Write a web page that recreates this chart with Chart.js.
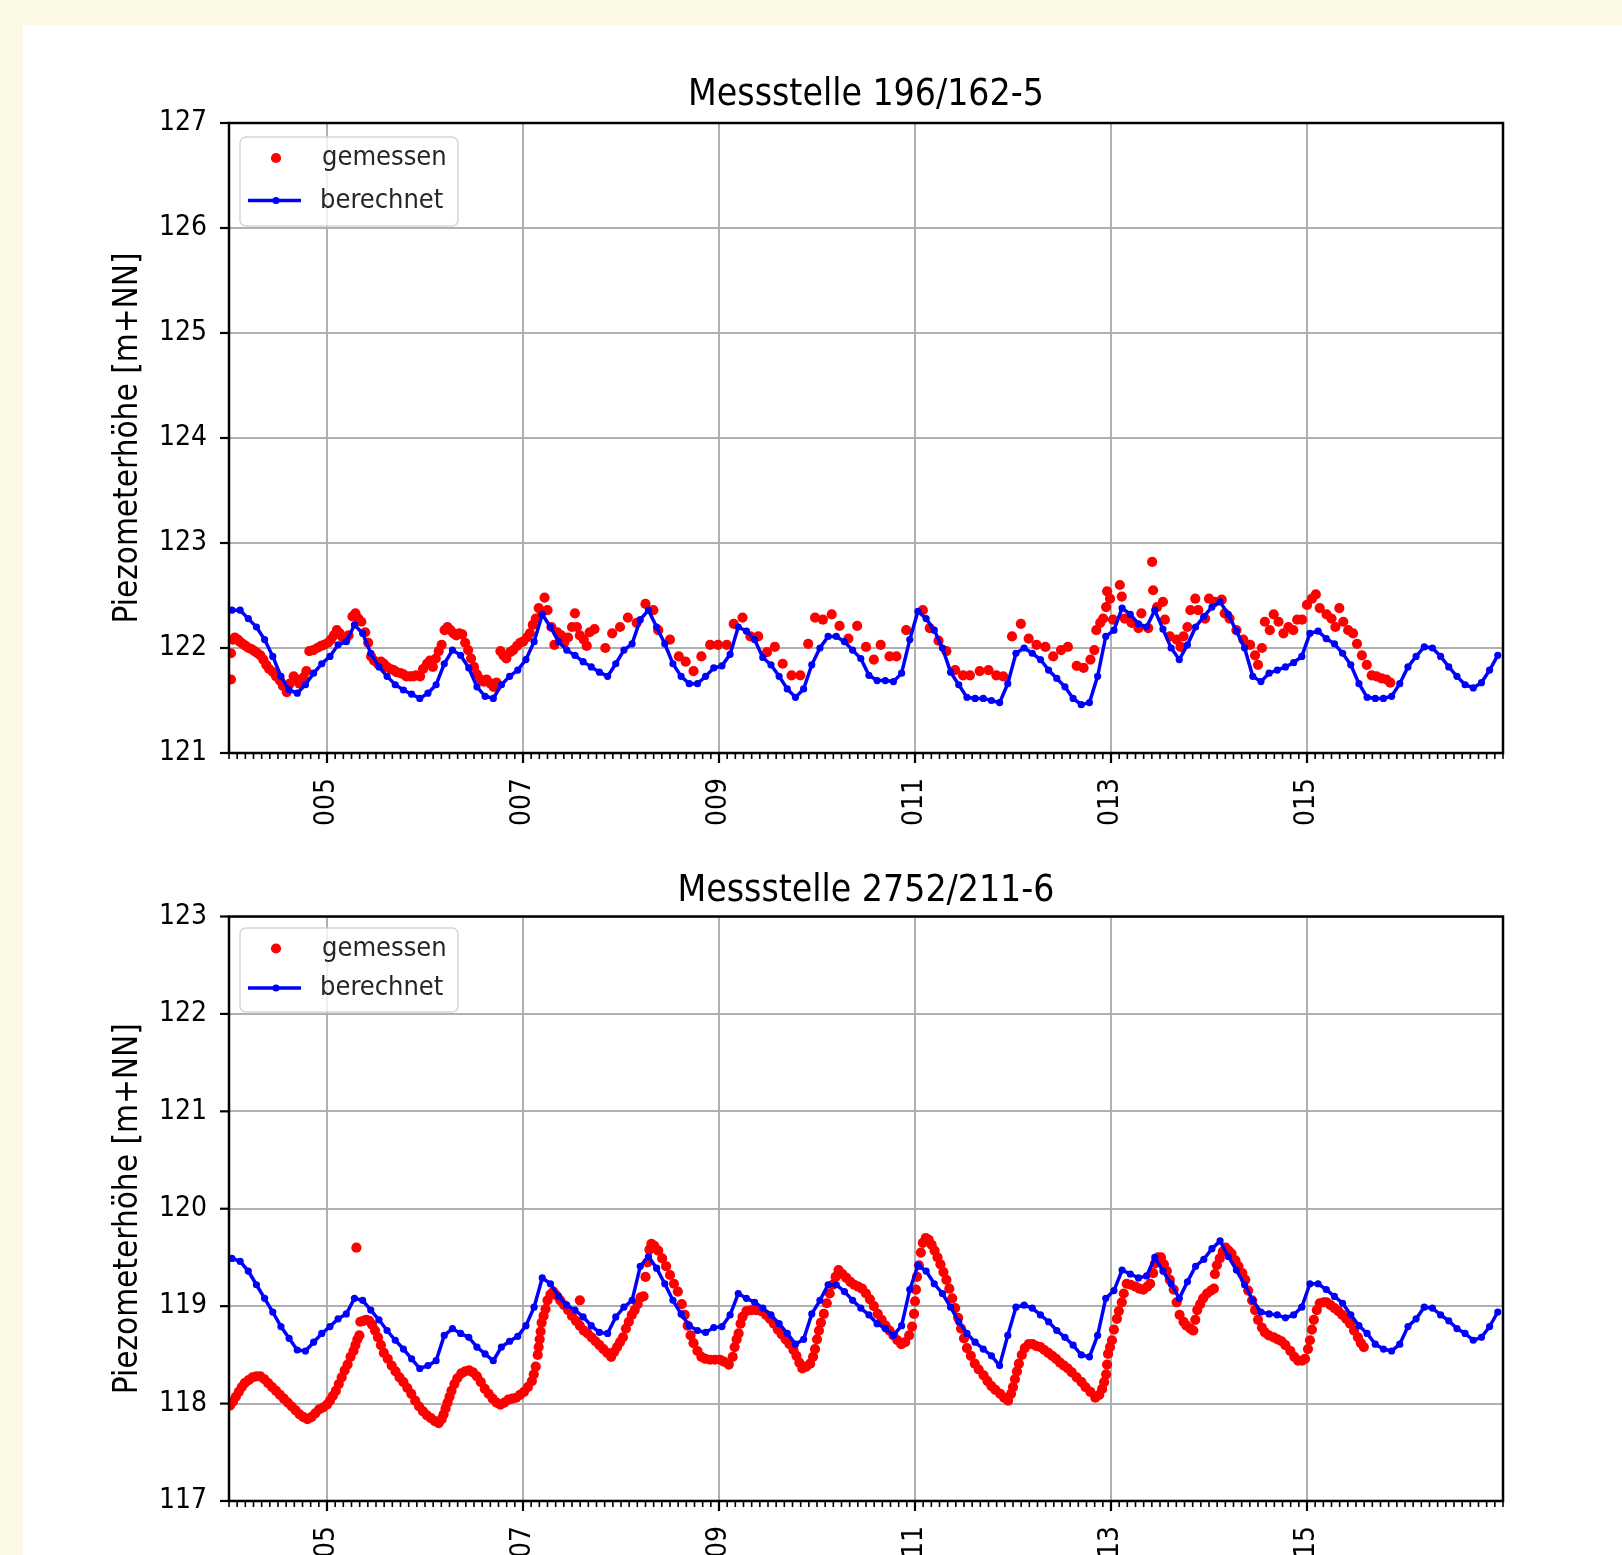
<!DOCTYPE html>
<html>
<head>
<meta charset="utf-8">
<script src="https://cdn.jsdelivr.net/npm/chart.js@4.4.0/dist/chart.umd.min.js"></script>
<style>
  html, body { margin: 0; padding: 0; width: 1622px; height: 1555px; overflow: hidden; background: #fbf9e5; }
  #panel { position: absolute; left: 23px; top: 25px; right: 0; bottom: 0; background: #fff; }
  canvas { position: absolute; }
  #c1 { left: 110px; top: 25px; }
  #c2 { left: 110px; top: 855px; }
</style>
</head>
<body>
<div id="panel"></div>
<canvas id="c1" width="1512" height="830"></canvas>
<canvas id="c2" width="1512" height="800"></canvas>
<script>
const FONT = "'DejaVu Sans Condensed', 'Liberation Sans', sans-serif";

// Achse: Jahre, Beschriftung nur jedes zweite Jahr
const yearTicks = [2005, 2007, 2009, 2011, 2013, 2015];
const yearLabels = ['005', '007', '009', '011', '013', '015'];

// berechnete Werte: monatlich ab Mitte Januar 2004
const blueStart = 2004.03;

// Messstelle 196/162-5
const berechnetTop = [
  122.36, 122.36, 122.28, 122.20, 122.08, 121.92, 121.73, 121.60, 121.57, 121.65, 121.76, 121.85,
  121.92, 122.03, 122.06, 122.22, 122.14, 121.95, 121.82, 121.73, 121.65, 121.60, 121.56, 121.52,
  121.57, 121.65, 121.85, 121.98, 121.93, 121.81, 121.63, 121.54, 121.52, 121.65, 121.73, 121.79,
  121.89, 122.06, 122.32, 122.20, 122.06, 121.98, 121.93, 121.87, 121.82, 121.77, 121.73, 121.85,
  121.98, 122.04, 122.27, 122.36, 122.20, 122.04, 121.85, 121.73, 121.66, 121.66, 121.73, 121.81,
  121.83, 121.94, 122.20, 122.16, 122.08, 121.91, 121.84, 121.73, 121.61, 121.53, 121.61, 121.84,
  122.00, 122.11, 122.11, 122.06, 121.98, 121.90, 121.74, 121.69, 121.69, 121.68, 121.76, 122.08,
  122.35, 122.28, 122.17, 122.00, 121.77, 121.65, 121.53, 121.52, 121.52, 121.50, 121.48, 121.66,
  121.95, 122.00, 121.95, 121.89, 121.79, 121.71, 121.63, 121.52, 121.46, 121.48, 121.73, 122.11,
  122.17, 122.38, 122.32, 122.23, 122.20, 122.36, 122.18, 122.00, 121.89, 122.03, 122.20, 122.30,
  122.39, 122.44, 122.32, 122.16, 122.00, 121.73, 121.68, 121.76, 121.79, 121.82, 121.86, 121.92,
  122.14, 122.16, 122.09, 122.04, 121.95, 121.84, 121.66, 121.53, 121.52, 121.52, 121.54, 121.66,
  121.82, 121.92, 122.01, 122.00, 121.92, 121.82, 121.73, 121.65, 121.62, 121.67, 121.79, 121.93
];

const gemessenTop = [
  [2004.02, 121.70], [2004.02, 121.95], [2004.04, 122.08], [2004.06, 122.10], [2004.09, 122.08],
  [2004.11, 122.06], [2004.14, 122.04], [2004.17, 122.02], [2004.20, 122.00], [2004.23, 121.99],
  [2004.26, 121.97], [2004.29, 121.95], [2004.32, 121.93], [2004.35, 121.89], [2004.38, 121.84],
  [2004.41, 121.80], [2004.45, 121.77], [2004.48, 121.73], [2004.52, 121.69], [2004.55, 121.64],
  [2004.59, 121.58], [2004.62, 121.66], [2004.66, 121.73], [2004.69, 121.70], [2004.72, 121.66],
  [2004.76, 121.72], [2004.79, 121.78], [2004.82, 121.97], [2004.86, 121.98], [2004.90, 122.00],
  [2004.94, 122.02], [2004.97, 122.03], [2005.01, 122.05], [2005.04, 122.08], [2005.07, 122.12],
  [2005.10, 122.17], [2005.13, 122.14], [2005.16, 122.10], [2005.19, 122.08], [2005.22, 122.12],
  [2005.26, 122.30], [2005.29, 122.33], [2005.32, 122.28], [2005.35, 122.25], [2005.39, 122.15],
  [2005.42, 122.05], [2005.45, 121.92], [2005.48, 121.88], [2005.52, 121.85], [2005.55, 121.87],
  [2005.58, 121.85], [2005.61, 121.82], [2005.65, 121.80], [2005.68, 121.79], [2005.71, 121.77],
  [2005.75, 121.76], [2005.78, 121.75], [2005.81, 121.73], [2005.85, 121.73], [2005.88, 121.73],
  [2005.91, 121.74], [2005.95, 121.73], [2005.98, 121.80], [2006.02, 121.85], [2006.05, 121.88],
  [2006.08, 121.82], [2006.11, 121.90], [2006.14, 121.97], [2006.17, 122.03], [2006.20, 122.17],
  [2006.23, 122.20], [2006.26, 122.17], [2006.29, 122.14], [2006.32, 122.12], [2006.35, 122.14],
  [2006.38, 122.13], [2006.41, 122.05], [2006.44, 121.98], [2006.47, 121.90], [2006.50, 121.82],
  [2006.53, 121.75], [2006.57, 121.70], [2006.60, 121.68], [2006.63, 121.70], [2006.67, 121.66],
  [2006.70, 121.63], [2006.73, 121.67], [2006.77, 121.97], [2006.80, 121.93], [2006.83, 121.90],
  [2006.87, 121.96], [2006.90, 121.98], [2006.94, 122.02], [2006.97, 122.05], [2007.00, 122.06],
  [2007.04, 122.10], [2007.07, 122.14], [2007.10, 122.22], [2007.13, 122.28], [2007.16, 122.38],
  [2007.19, 122.35], [2007.22, 122.48], [2007.25, 122.36], [2007.29, 122.20], [2007.32, 122.03],
  [2007.35, 122.15], [2007.39, 122.12], [2007.42, 122.05], [2007.46, 122.10], [2007.50, 122.20],
  [2007.53, 122.33], [2007.55, 122.20], [2007.58, 122.12], [2007.62, 122.08], [2007.65, 122.02],
  [2007.68, 122.15], [2007.73, 122.18], [2007.84, 122.00], [2007.91, 122.14], [2007.99, 122.20],
  [2008.07, 122.29], [2008.16, 122.24], [2008.25, 122.42], [2008.33, 122.36], [2008.38, 122.17],
  [2008.50, 122.08], [2008.59, 121.92], [2008.66, 121.87], [2008.74, 121.78], [2008.82, 121.92],
  [2008.91, 122.03], [2008.99, 122.03], [2009.08, 122.03], [2009.15, 122.23], [2009.24, 122.29],
  [2009.32, 122.11], [2009.40, 122.11], [2009.49, 121.96], [2009.57, 122.01], [2009.65, 121.85],
  [2009.74, 121.74], [2009.83, 121.74], [2009.91, 122.04], [2009.98, 122.29], [2010.06, 122.27],
  [2010.15, 122.32], [2010.23, 122.21], [2010.32, 122.09], [2010.41, 122.21], [2010.50, 122.01],
  [2010.58, 121.89], [2010.65, 122.03], [2010.74, 121.92], [2010.81, 121.92], [2010.91, 122.17],
  [2011.08, 122.36], [2011.15, 122.19], [2011.24, 122.07], [2011.32, 121.97], [2011.41, 121.79],
  [2011.49, 121.74], [2011.56, 121.74], [2011.66, 121.78], [2011.75, 121.79], [2011.83, 121.74],
  [2011.90, 121.73], [2011.99, 122.11], [2012.08, 122.23], [2012.16, 122.09], [2012.24, 122.03],
  [2012.33, 122.01], [2012.41, 121.92], [2012.49, 121.98], [2012.56, 122.01], [2012.65, 121.83],
  [2012.72, 121.81], [2012.79, 121.89], [2012.83, 121.98], [2012.85, 122.17], [2012.89, 122.24],
  [2012.92, 122.28], [2012.95, 122.39], [2012.96, 122.54], [2012.99, 122.47], [2013.02, 122.27],
  [2013.09, 122.60], [2013.11, 122.49], [2013.14, 122.28], [2013.21, 122.24], [2013.28, 122.19],
  [2013.31, 122.33], [2013.38, 122.19], [2013.42, 122.82], [2013.43, 122.55], [2013.47, 122.39],
  [2013.53, 122.44], [2013.55, 122.27], [2013.60, 122.11], [2013.67, 122.08], [2013.71, 122.01],
  [2013.74, 122.11], [2013.78, 122.20], [2013.81, 122.36], [2013.86, 122.47], [2013.89, 122.36],
  [2013.96, 122.28], [2014.00, 122.47], [2014.06, 122.44], [2014.13, 122.46], [2014.16, 122.33],
  [2014.21, 122.28], [2014.28, 122.17], [2014.35, 122.08], [2014.42, 122.03], [2014.47, 121.93],
  [2014.50, 121.84], [2014.54, 122.00], [2014.57, 122.25], [2014.62, 122.17], [2014.66, 122.32],
  [2014.71, 122.25], [2014.76, 122.14], [2014.81, 122.20], [2014.86, 122.17], [2014.90, 122.27],
  [2014.95, 122.27], [2015.00, 122.41], [2015.05, 122.47], [2015.09, 122.51], [2015.13, 122.38],
  [2015.20, 122.32], [2015.25, 122.28], [2015.29, 122.20], [2015.33, 122.38], [2015.37, 122.25],
  [2015.42, 122.17], [2015.47, 122.14], [2015.51, 122.04], [2015.56, 121.93], [2015.61, 121.84],
  [2015.66, 121.74], [2015.71, 121.73], [2015.76, 121.71], [2015.81, 121.70], [2015.85, 121.67]
];

// Messstelle 2752/211-6
const berechnetBottom = [
  119.49, 119.46, 119.36, 119.22, 119.08, 118.94, 118.79, 118.67, 118.55, 118.54, 118.63, 118.72,
  118.79, 118.87, 118.92, 119.08, 119.06, 118.96, 118.86, 118.75, 118.65, 118.56, 118.46, 118.36,
  118.39, 118.44, 118.70, 118.77, 118.72, 118.68, 118.58, 118.51, 118.44, 118.58, 118.64, 118.69,
  118.80, 118.99, 119.29, 119.23, 119.10, 119.01, 118.96, 118.89, 118.80, 118.73, 118.72, 118.89,
  118.99, 119.06, 119.41, 119.51, 119.39, 119.23, 119.06, 118.92, 118.80, 118.75, 118.73, 118.78,
  118.79, 118.91, 119.13, 119.08, 119.04, 118.98, 118.91, 118.82, 118.72, 118.61, 118.66, 118.92,
  119.06, 119.22, 119.22, 119.15, 119.06, 118.98, 118.91, 118.82, 118.77, 118.70, 118.80, 119.17,
  119.42, 119.36, 119.23, 119.13, 118.99, 118.84, 118.72, 118.63, 118.56, 118.49, 118.39, 118.70,
  118.99, 119.01, 118.98, 118.91, 118.84, 118.75, 118.68, 118.60, 118.50, 118.48, 118.70, 119.08,
  119.16, 119.37, 119.33, 119.29, 119.31, 119.50, 119.36, 119.23, 119.08, 119.25, 119.41, 119.48,
  119.59, 119.67, 119.51, 119.37, 119.22, 119.06, 118.94, 118.92, 118.91, 118.88, 118.91, 118.99,
  119.23, 119.23, 119.17, 119.10, 119.03, 118.91, 118.80, 118.72, 118.61, 118.56, 118.54, 118.61,
  118.79, 118.87, 118.99, 118.98, 118.91, 118.85, 118.77, 118.72, 118.65, 118.68, 118.79, 118.94
];

const gemessenBottom = [
  [2004.01, 117.98], [2004.04, 118.02], [2004.07, 118.07], [2004.10, 118.12], [2004.13, 118.17],
  [2004.16, 118.21], [2004.20, 118.24], [2004.24, 118.27], [2004.28, 118.28], [2004.32, 118.28],
  [2004.36, 118.25], [2004.40, 118.21], [2004.44, 118.17], [2004.48, 118.13], [2004.52, 118.09],
  [2004.56, 118.05], [2004.60, 118.01], [2004.64, 117.97], [2004.68, 117.93], [2004.72, 117.89],
  [2004.76, 117.86], [2004.80, 117.84], [2004.84, 117.86], [2004.88, 117.90], [2004.92, 117.94],
  [2004.96, 117.96], [2005.00, 117.99], [2005.03, 118.03], [2005.06, 118.08], [2005.09, 118.13],
  [2005.12, 118.20], [2005.15, 118.27], [2005.18, 118.34], [2005.21, 118.40], [2005.24, 118.48],
  [2005.27, 118.54], [2005.29, 118.60], [2005.31, 118.66], [2005.33, 118.70], [2005.30, 119.60],
  [2005.34, 118.84], [2005.37, 118.85], [2005.40, 118.86], [2005.43, 118.85], [2005.46, 118.81],
  [2005.49, 118.75], [2005.52, 118.68], [2005.55, 118.60], [2005.58, 118.52], [2005.62, 118.46],
  [2005.66, 118.39], [2005.70, 118.33], [2005.74, 118.27], [2005.78, 118.22], [2005.82, 118.16],
  [2005.86, 118.10], [2005.90, 118.03], [2005.94, 117.97], [2005.98, 117.92], [2006.02, 117.88],
  [2006.06, 117.85], [2006.10, 117.82], [2006.14, 117.80], [2006.17, 117.84], [2006.19, 117.89],
  [2006.21, 117.95], [2006.23, 118.01], [2006.25, 118.07], [2006.27, 118.13], [2006.30, 118.20],
  [2006.33, 118.26], [2006.37, 118.31], [2006.41, 118.33], [2006.45, 118.34], [2006.49, 118.32],
  [2006.53, 118.28], [2006.57, 118.22], [2006.61, 118.15], [2006.65, 118.10], [2006.69, 118.05],
  [2006.73, 118.01], [2006.77, 117.99], [2006.81, 118.01], [2006.85, 118.04], [2006.89, 118.05],
  [2006.93, 118.06], [2006.97, 118.09], [2007.01, 118.12], [2007.05, 118.17], [2007.09, 118.23],
  [2007.11, 118.30], [2007.13, 118.38], [2007.15, 118.50], [2007.16, 118.58], [2007.17, 118.66],
  [2007.18, 118.74], [2007.19, 118.83], [2007.21, 118.90], [2007.23, 118.97], [2007.25, 119.06],
  [2007.28, 119.12], [2007.31, 119.15], [2007.34, 119.11], [2007.38, 119.06], [2007.42, 119.01],
  [2007.46, 118.96], [2007.50, 118.90], [2007.54, 118.85], [2007.58, 118.80], [2007.58, 119.06],
  [2007.62, 118.75], [2007.66, 118.72], [2007.70, 118.68], [2007.74, 118.64], [2007.78, 118.60],
  [2007.82, 118.56], [2007.86, 118.52], [2007.90, 118.48], [2007.93, 118.53], [2007.96, 118.58],
  [2007.99, 118.63], [2008.02, 118.68], [2008.05, 118.77], [2008.08, 118.84], [2008.11, 118.91],
  [2008.14, 118.96], [2008.17, 119.02], [2008.20, 119.09], [2008.23, 119.10], [2008.25, 119.30],
  [2008.27, 119.45], [2008.29, 119.58], [2008.31, 119.64], [2008.34, 119.62], [2008.38, 119.57],
  [2008.42, 119.49], [2008.46, 119.41], [2008.50, 119.32], [2008.54, 119.23], [2008.58, 119.15],
  [2008.62, 119.02], [2008.65, 118.91], [2008.68, 118.80], [2008.71, 118.70], [2008.74, 118.62],
  [2008.78, 118.54], [2008.82, 118.48], [2008.86, 118.46], [2008.91, 118.45], [2008.96, 118.45],
  [2009.01, 118.45], [2009.05, 118.43], [2009.10, 118.40], [2009.14, 118.48], [2009.16, 118.58],
  [2009.18, 118.66], [2009.20, 118.72], [2009.22, 118.82], [2009.24, 118.89], [2009.28, 118.95],
  [2009.33, 118.96], [2009.38, 118.96], [2009.43, 118.95], [2009.48, 118.91], [2009.52, 118.87],
  [2009.56, 118.82], [2009.60, 118.76], [2009.64, 118.71], [2009.68, 118.66], [2009.72, 118.61],
  [2009.76, 118.55], [2009.79, 118.49], [2009.82, 118.42], [2009.85, 118.36], [2009.89, 118.38],
  [2009.93, 118.41], [2009.96, 118.48], [2009.98, 118.56], [2010.00, 118.66], [2010.02, 118.75],
  [2010.04, 118.83], [2010.07, 118.92], [2010.10, 119.03], [2010.13, 119.13], [2010.16, 119.22],
  [2010.19, 119.30], [2010.22, 119.37], [2010.26, 119.33], [2010.30, 119.29], [2010.34, 119.25],
  [2010.38, 119.22], [2010.42, 119.20], [2010.46, 119.18], [2010.50, 119.13], [2010.54, 119.07],
  [2010.58, 119.00], [2010.62, 118.92], [2010.66, 118.86], [2010.70, 118.80], [2010.74, 118.75],
  [2010.78, 118.70], [2010.82, 118.65], [2010.86, 118.61], [2010.90, 118.63], [2010.94, 118.70],
  [2010.97, 118.79], [2010.99, 118.92], [2011.00, 119.05], [2011.01, 119.17], [2011.02, 119.30],
  [2011.04, 119.42], [2011.06, 119.55], [2011.08, 119.65], [2011.11, 119.70], [2011.14, 119.68],
  [2011.17, 119.63], [2011.20, 119.57], [2011.23, 119.50], [2011.26, 119.43], [2011.29, 119.35],
  [2011.32, 119.27], [2011.35, 119.18], [2011.38, 119.08], [2011.41, 118.98], [2011.44, 118.88],
  [2011.47, 118.77], [2011.50, 118.67], [2011.53, 118.57], [2011.57, 118.49], [2011.61, 118.41],
  [2011.65, 118.35], [2011.70, 118.29], [2011.74, 118.23], [2011.78, 118.18], [2011.82, 118.14],
  [2011.87, 118.10], [2011.91, 118.06], [2011.95, 118.03], [2011.98, 118.10], [2012.00, 118.17],
  [2012.02, 118.25], [2012.04, 118.33], [2012.06, 118.41], [2012.09, 118.50], [2012.12, 118.57],
  [2012.16, 118.61], [2012.20, 118.61], [2012.24, 118.59], [2012.28, 118.58], [2012.32, 118.55],
  [2012.36, 118.52], [2012.40, 118.49], [2012.44, 118.46], [2012.48, 118.42], [2012.52, 118.39],
  [2012.56, 118.36], [2012.60, 118.32], [2012.65, 118.27], [2012.70, 118.22], [2012.74, 118.17],
  [2012.79, 118.12], [2012.84, 118.06], [2012.88, 118.09], [2012.91, 118.15], [2012.93, 118.22],
  [2012.95, 118.30], [2012.96, 118.40], [2012.97, 118.51], [2012.99, 118.58], [2013.01, 118.65],
  [2013.03, 118.76], [2013.06, 118.87], [2013.08, 118.95], [2013.11, 119.04], [2013.13, 119.13],
  [2013.16, 119.23], [2013.20, 119.22], [2013.25, 119.20], [2013.29, 119.18], [2013.33, 119.17],
  [2013.37, 119.20], [2013.40, 119.23], [2013.43, 119.34], [2013.45, 119.44], [2013.48, 119.50],
  [2013.51, 119.50], [2013.54, 119.43], [2013.57, 119.36], [2013.60, 119.27], [2013.64, 119.17],
  [2013.67, 119.04], [2013.70, 118.91], [2013.74, 118.84], [2013.77, 118.80], [2013.81, 118.77],
  [2013.84, 118.75], [2013.86, 118.86], [2013.88, 118.96], [2013.91, 119.02], [2013.94, 119.08],
  [2013.98, 119.13], [2014.02, 119.16], [2014.05, 119.18], [2014.06, 119.33], [2014.08, 119.42],
  [2014.11, 119.49], [2014.14, 119.56], [2014.17, 119.60], [2014.20, 119.57], [2014.23, 119.54],
  [2014.27, 119.47], [2014.30, 119.41], [2014.34, 119.34], [2014.37, 119.27], [2014.40, 119.16],
  [2014.44, 119.06], [2014.47, 118.96], [2014.50, 118.86], [2014.54, 118.78], [2014.57, 118.73],
  [2014.61, 118.70], [2014.66, 118.68], [2014.70, 118.66], [2014.74, 118.64], [2014.78, 118.60],
  [2014.83, 118.54], [2014.87, 118.48], [2014.91, 118.44], [2014.95, 118.44], [2014.98, 118.46],
  [2015.01, 118.56], [2015.03, 118.65], [2015.05, 118.76], [2015.07, 118.86], [2015.10, 118.96],
  [2015.13, 119.03], [2015.17, 119.04], [2015.20, 119.04], [2015.24, 119.01], [2015.28, 118.98],
  [2015.32, 118.95], [2015.36, 118.91], [2015.40, 118.87], [2015.44, 118.82], [2015.48, 118.75],
  [2015.52, 118.68], [2015.55, 118.62], [2015.58, 118.58]
];

function majorIndex(v) {
  return yearTicks.findIndex(y => Math.abs(v - y) < 1e-6);
}

// Monatsstriche zwischen min und max
function monthTicks(scale) {
  const ticks = [];
  const n = Math.round((scale.max - scale.min) * 12);
  for (let k = 0; k <= n; k++) ticks.push({ value: scale.min + k / 12 });
  scale.ticks = ticks;
}

// Rahmen, Striche und Legende im matplotlib-Stil
const frameAndLegend = {
  id: 'frameAndLegend',
  afterDatasetsDraw(chart, args, opts) {
    const { ctx, chartArea: a } = chart;
    const xs = chart.scales.x, ys = chart.scales.y;
    ctx.save();
    ctx.strokeStyle = '#000';
    xs.ticks.forEach(t => {
      const px = xs.getPixelForValue(t.value);
      const major = majorIndex(t.value) >= 0;
      ctx.lineWidth = major ? 2.2 : 1.6;
      ctx.beginPath();
      ctx.moveTo(px, a.bottom);
      ctx.lineTo(px, a.bottom + (major ? 10 : 6));
      ctx.stroke();
    });
    ys.ticks.forEach(t => {
      const py = ys.getPixelForValue(t.value);
      ctx.lineWidth = 2.2;
      ctx.beginPath();
      ctx.moveTo(a.left - 9, py);
      ctx.lineTo(a.left, py);
      ctx.stroke();
    });
    ctx.lineWidth = 2.5;
    ctx.strokeRect(a.left, a.top, a.right - a.left, a.bottom - a.top);

    // Legende
    const lx = a.left + 11, ly = a.top + opts.top;
    ctx.beginPath();
    ctx.roundRect(lx, ly, 218, opts.height, 6);
    ctx.fillStyle = 'rgba(255,255,255,0.8)';
    ctx.fill();
    ctx.strokeStyle = 'rgba(204,204,204,0.8)';
    ctx.lineWidth = 1.5;
    ctx.stroke();

    const [red, blue] = chart.data.datasets;
    ctx.font = '27px ' + FONT;
    ctx.textBaseline = 'middle';
    ctx.textAlign = 'left';

    const r1 = ly + opts.row1, r2 = ly + opts.row2;
    ctx.fillStyle = red.pointBackgroundColor;
    ctx.beginPath();
    ctx.arc(lx + 36, r1, red.pointRadius, 0, Math.PI * 2);
    ctx.fill();
    ctx.fillStyle = '#262626';
    ctx.fillText(red.label, lx + 82, r1);

    ctx.strokeStyle = blue.borderColor;
    ctx.lineWidth = blue.borderWidth;
    ctx.beginPath();
    ctx.moveTo(lx + 8, r2);
    ctx.lineTo(lx + 61, r2);
    ctx.stroke();
    ctx.fillStyle = blue.pointBackgroundColor;
    ctx.beginPath();
    ctx.arc(lx + 36, r2, blue.pointRadius, 0, Math.PI * 2);
    ctx.fill();
    ctx.fillStyle = '#262626';
    ctx.fillText(blue.label, lx + 80, r2);
    ctx.restore();
  }
};

function makeChart(id, cfg) {
  return new Chart(document.getElementById(id), {
    type: 'scatter',
    data: {
      datasets: [
        {
          label: 'gemessen',
          data: cfg.gemessen.map(p => ({ x: p[0], y: p[1] })),
          pointRadius: 5.1,
          pointBackgroundColor: '#ff0000',
          pointBorderWidth: 0,
          order: 2
        },
        {
          label: 'berechnet',
          data: cfg.berechnet.map((v, i) => ({ x: blueStart + i / 12, y: v })),
          showLine: true,
          borderColor: '#0000ff',
          borderWidth: 3.5,
          pointRadius: 3.6,
          pointBackgroundColor: '#0000ff',
          pointBorderWidth: 0,
          order: 1
        }
      ]
    },
    options: {
      responsive: false,
      animation: false,
      devicePixelRatio: 1,
      events: [],
      layout: { padding: { left: 0, right: 119, top: 0, bottom: 0 } },
      plugins: {
        legend: { display: false },
        tooltip: { enabled: false },
        title: {
          display: true,
          text: cfg.title,
          fullSize: false,
          color: '#000',
          font: { family: FONT, size: 37, weight: 'normal', lineHeight: 1.2 },
          padding: { top: cfg.titleTop, bottom: cfg.titleBottom }
        },
        frameAndLegend: cfg.legend
      },
      scales: {
        x: {
          type: 'linear',
          min: 2004,
          max: 2017,
          afterBuildTicks: monthTicks,
          afterFit: s => { s.height = cfg.xAxisHeight; },
          border: { display: false },
          grid: {
            drawTicks: false,
            lineWidth: 2,
            color: c => majorIndex(c.tick.value) >= 0 ? '#b0b0b0' : 'rgba(0,0,0,0)'
          },
          ticks: {
            autoSkip: false,
            minRotation: 90,
            maxRotation: 90,
            padding: 25,
            color: '#000',
            font: { family: FONT, size: 28 },
            callback: v => {
              const i = majorIndex(v);
              return i >= 0 ? yearLabels[i] : '';
            }
          }
        },
        y: {
          min: cfg.yMin,
          max: cfg.yMax,
          afterFit: s => { s.width = 119; },
          border: { display: false },
          grid: { drawTicks: false, lineWidth: 2, color: '#b0b0b0' },
          ticks: { stepSize: 1, padding: 22, color: '#000', font: { family: FONT, size: 28 } },
          title: {
            display: true,
            text: 'Piezometerhöhe [m+NN]',
            color: '#000',
            font: { family: FONT, size: 33, lineHeight: 1 },
            padding: { top: 1.5, bottom: 0 }
          }
        }
      }
    },
    plugins: [frameAndLegend]
  });
}

makeChart('c1', {
  title: 'Messstelle 196/162-5',
  gemessen: gemessenTop,
  berechnet: berechnetTop,
  yMin: 121, yMax: 127,
  titleTop: 47.8, titleBottom: 5.8,
  xAxisHeight: 102,
  legend: { top: 14, height: 89, row1: 21, row2: 63.5 }
});

makeChart('c2', {
  title: 'Messstelle 2752/211-6',
  gemessen: gemessenBottom,
  berechnet: berechnetBottom,
  yMin: 117, yMax: 123,
  titleTop: 14.3, titleBottom: 2.8,
  xAxisHeight: 154,
  legend: { top: 11.5, height: 84, row1: 20.5, row2: 60 }
});
</script>
</body>
</html>
